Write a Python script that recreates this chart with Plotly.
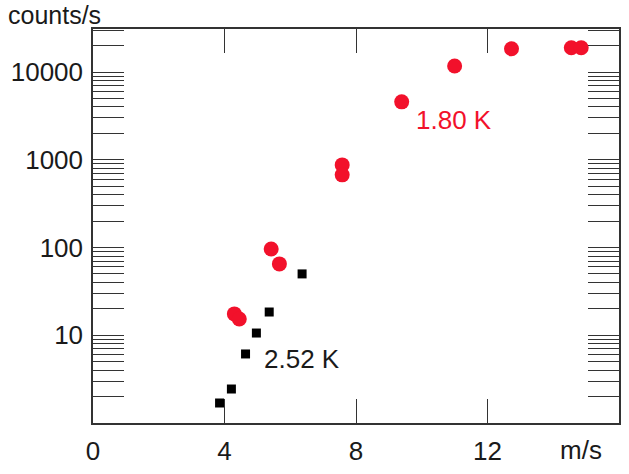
import plotly.graph_objects as go

# 1.80 K series (red circles)
v_180 = [4.30, 4.45, 5.42, 5.67, 7.58, 7.58, 9.39, 11.0, 12.73, 14.55, 14.85]
c_180 = [17.5, 15.3, 96, 65, 873, 673, 4570, 11700, 18400, 18900, 18900]

# 2.52 K series (black squares)
v_252 = [3.85, 4.21, 4.64, 4.97, 5.36, 6.36]
c_252 = [1.69, 2.44, 6.12, 10.6, 18.4, 50]

x_ticks = [0, 4, 8, 12]
x_tick_labels = ["0", "4", "8", "12"]
y_major = [10, 100, 1000, 10000]

FONT = "Liberation Sans, Arial, sans-serif"
TXT = "#1a1a1a"
RED = "#f2112b"
FS = 26

y_tickvals = []
y_ticktext = []
for dec in [1, 10, 100, 1000, 10000]:
    for m in range(1, 10):
        v = dec * m
        if v > 31000:
            break
        y_tickvals.append(v)
        y_ticktext.append(str(v) if v in y_major else "")

fig = go.Figure()
fig.add_trace(go.Scatter(x=v_252, y=c_252, mode="markers",
                         marker=dict(symbol="square", size=9, color="black"),
                         showlegend=False))
fig.add_trace(go.Scatter(x=v_180, y=c_180, mode="markers",
                         marker=dict(symbol="circle", size=15, color=RED),
                         showlegend=False))

fig.add_annotation(x=9.75, y=3.455, xref="x", yref="y", text="1.80 K",
                   showarrow=False, xanchor="left", yanchor="middle",
                   font=dict(family=FONT, size=FS, color=RED))
fig.add_annotation(x=5.15, y=0.73, xref="x", yref="y", text="2.52 K",
                   showarrow=False, xanchor="left", yanchor="middle",
                   font=dict(family=FONT, size=FS, color=TXT))
fig.add_annotation(x=-0.165, y=1.036, xref="paper", yref="paper", text="counts/s",
                   showarrow=False, xanchor="left", yanchor="middle",
                   font=dict(family=FONT, size=FS - 1, color=TXT))
fig.add_annotation(x=14.85, y=-0.068, xref="x", yref="paper", text="m/s",
                   showarrow=False, xanchor="center", yanchor="middle",
                   font=dict(family=FONT, size=FS, color=TXT))

fig.update_xaxes(range=[0, 16], tickvals=x_ticks, ticktext=x_tick_labels,
                 ticks="inside", ticklen=24, tickwidth=1.2, tickcolor="#333",
                 showline=True, linecolor="#333", linewidth=1.5, mirror="ticks",
                 showgrid=False, zeroline=False, ticklabelstandoff=4,
                 tickfont=dict(family=FONT, size=FS, color=TXT))
fig.update_yaxes(type="log", range=[0, 4.49], tickvals=y_tickvals, ticktext=y_ticktext,
                 ticks="inside", ticklen=31, tickwidth=1.2, tickcolor="#333",
                 showline=True, linecolor="#333", linewidth=1.5, mirror="ticks",
                 showgrid=False, zeroline=False, ticklabelstandoff=3,
                 tickfont=dict(family=FONT, size=FS, color=TXT))

fig.update_layout(width=629, height=474, plot_bgcolor="white", paper_bgcolor="white",
                  margin=dict(l=93, r=8, t=29, b=51))

fig.write_html("out.html")
